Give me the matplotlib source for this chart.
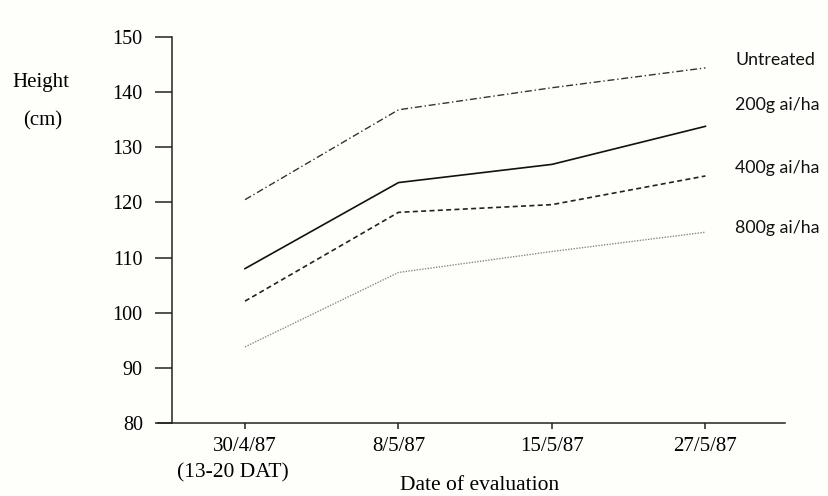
import matplotlib
matplotlib.use("Agg")
import matplotlib.pyplot as plt

dates = ["30/4/87", "8/5/87", "15/5/87", "27/5/87"]
series_names = ["Untreated", "200g ai/ha", "400g ai/ha", "800g ai/ha"]
untreated = [120.5, 136.8, 140.8, 144.4]
g200 = [108.0, 123.6, 126.9, 133.8]
g400 = [102.1, 118.2, 119.6, 124.8]
g800 = [93.8, 107.3, 111.1, 114.6]
label_y = [145.8, 137.7, 126.3, 115.3]
yticks = [80, 90, 100, 110, 120, 130, 140, 150]

bg = "#fefefa"
fig = plt.figure(figsize=(8.29, 4.96), dpi=100, facecolor=bg)
ax = fig.add_axes([0.1906, 0.1472, 0.7566, 0.7782], facecolor=bg)

x = list(range(len(dates)))
styles = [
    dict(color="#333333", linestyle=(0, (5, 2, 1, 2)), linewidth=1.0),
    dict(color="#111111", linestyle="-", linewidth=1.2),
    dict(color="#222222", linestyle=(0, (3, 2)), linewidth=1.2),
    dict(color="#888888", linestyle=(0, (1, 1)), linewidth=1.0),
]
for vals, st in zip([untreated, g200, g400, g800], styles):
    ax.plot(x, vals, **st)

serif = ["Liberation Serif", "DejaVu Serif"]
sans = ["Lato", "DejaVu Sans"]
for name, ly in zip(series_names, label_y):
    ax.text(3.195, ly, name, fontsize=12.8, family=sans,
            va="center", ha="left", color="#111111")

ax.set_xlim(-0.567, 3.52)
ax.set_ylim(80, 150)
ax.spines["left"].set_position(("data", -0.476))
ax.spines["top"].set_visible(False)
ax.spines["right"].set_visible(False)
for s in ["left", "bottom"]:
    ax.spines[s].set_color("#222222")
    ax.spines[s].set_linewidth(1.1)

ax.set_yticks(yticks)
ax.set_yticklabels([str(v) for v in yticks], family=serif, fontsize=14.5)
ax.tick_params(axis="y", direction="out", length=12, width=1.1, pad=9, color="#222222")
ax.set_xticks(x)
ax.set_xticklabels(dates, family=serif, fontsize=15)
ax.tick_params(axis="x", direction="out", length=4, width=1.1, pad=6, color="#222222")

fig.text(12/829, 1 - 82/496, "Height", family=serif, fontsize=15, ha="left", va="center")
fig.text(43/829, 1 - 121/496, "(cm)", family=serif, fontsize=15, ha="center", va="center")
fig.text(233/829, 1 - 473/496, "(13-20 DAT)", family=serif, fontsize=15.5, ha="center", va="center")
fig.text(480/829, 1 - 485/496, "Date of evaluation", family=serif, fontsize=15.5, ha="center", va="center")

fig.savefig("out.png", dpi=100, facecolor=bg)
